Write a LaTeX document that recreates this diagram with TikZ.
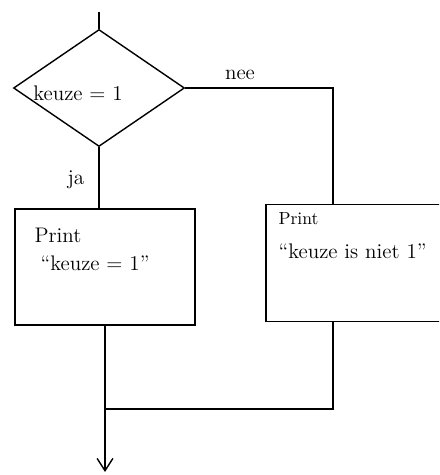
\documentclass[tikz,border=0pt]{standalone}
\usepackage{tikz}
\usetikzlibrary{
    shapes.geometric,
    arrows.meta,
    positioning,
    calc
}

\begin{document}
\begin{tikzpicture}[x=0.02cm, y=-0.02cm, line width=0.8pt,
    decision/.style={draw, diamond, inner sep=0pt, minimum width=3.42cm, minimum height=2.34cm},
    printbox/.style={draw, rectangle, inner sep=0pt, minimum width=3.6cm, minimum height=2.32cm},
    flowlabel/.style={font=\large, inner sep=1pt}
]
    \clip (0,0) rectangle (439,475);

    % Decision
    \coordinate (start) at (99,12);
    \node[decision] (keuze) at (99,88) {};
    \node[font=\large] (keuzetext) at (78,93) {keuze = 1};
    \draw (start) -- (keuze.north);

    % Branch ja
    \node[printbox] (box1) at (105,267) {};
    \node[font=\large, anchor=west] (print1) at (28,235) {Print};
    \node[font=\large, anchor=west] (msg1) at (34,263) {``keuze = 1''};
    \draw (keuze.south) -- (keuze.south |- box1.north);
    \node[flowlabel] (ja) at (76,180) {ja};

    % Branch nee
    \coordinate (corner) at (333,88);
    \node[printbox, minimum height=2.34cm] (box2) at (356,263) {};
    \node[font=\normalsize, anchor=west] (print2) at (272,219) {Print};
    \node[font=\large, anchor=west] (msg2) at (272,251) {``keuze is niet 1''};
    \draw (keuze.east) -- (corner) -- (corner |- box2.north);
    \node[flowlabel] (nee) at (240,75) {nee};

    % Merge and exit
    \coordinate (merge) at (105,409);
    \coordinate (exit) at (105,472);
    \draw (corner |- box2.south) |- (merge);
    \draw[-{Straight Barb[length=7pt, width=9pt]}] (box1.south) -- (exit);
\end{tikzpicture}
\end{document}
